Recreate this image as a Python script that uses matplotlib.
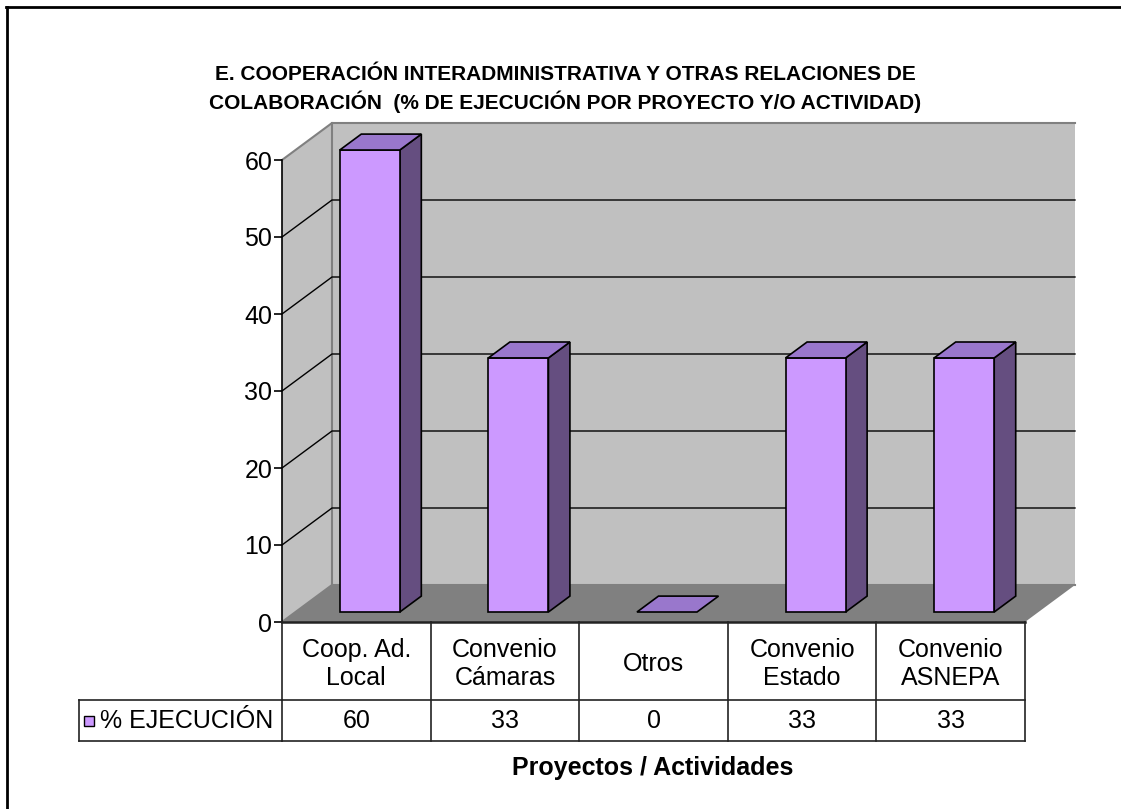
import matplotlib
matplotlib.use("Agg")
import matplotlib.pyplot as plt
from matplotlib.patches import Polygon, Rectangle
from matplotlib.lines import Line2D
from matplotlib.transforms import Affine2D, blended_transform_factory

# ---- data ----
title = ("E. COOPERACIÓN INTERADMINISTRATIVA Y OTRAS RELACIONES DE\n"
         "COLABORACIÓN  (% DE EJECUCIÓN POR PROYECTO Y/O ACTIVIDAD)")
categories = ["Coop. Ad.\nLocal", "Convenio\nCámaras", "Otros", "Convenio\nEstado", "Convenio\nASNEPA"]
values = [60, 33, 0, 33, 33]
series_name = "% EJECUCIÓN"
yticks = [0, 10, 20, 30, 40, 50, 60]
xlabel = "Proyectos / Actividades"

plt.rcParams['font.family'] = ['Liberation Sans', 'DejaVu Sans']

W, H = 1121, 809
fig = plt.figure(figsize=(W / 100, H / 100), dpi=100)
fig.patch.set_facecolor('white')
PX = Affine2D().scale(1.0 / W, -1.0 / H).translate(0, 1) + fig.transFigure

# front plane of the plot area (pixels)
L, R, T, B = 282, 1025, 160, 622
ax = fig.add_axes([L / W, 1 - B / H, (R - L) / W, (B - T) / H])
ax.set_xlim(0, len(categories))
ax.set_ylim(0, 60)
ax.patch.set_visible(False)
for s in ['top', 'right', 'bottom']:
    ax.spines[s].set_visible(False)
ax.spines['left'].set_linewidth(1.2)
ax.spines['left'].set_zorder(5)
ax.set_xticks([])
ax.set_yticks(yticks)
ax.tick_params(axis='y', direction='out', length=5.5, width=1.2, labelsize=18, pad=1.5)

n = len(categories)
DX = 50 / ((R - L) / n)   # depth offset in category units
DY = 37 / ((B - T) / 60)  # depth offset in value units


def P(x, v, d):
    return (x + d * DX, v + d * DY)


wall = '#C0C0C0'
floor = '#808080'
edge_grey = '#808080'
# back wall
ax.add_patch(Polygon([P(0, 0, 1), P(n, 0, 1), P(n, 60, 1), P(0, 60, 1)], closed=True,
                     facecolor=wall, edgecolor='none', clip_on=False, zorder=0))
# left wall
ax.add_patch(Polygon([P(0, 0, 0), P(0, 0, 1), P(0, 60, 1), P(0, 60, 0)], closed=True,
                     facecolor=wall, edgecolor='none', clip_on=False, zorder=0))
# floor
ax.add_patch(Polygon([P(0, 0, 0), P(n, 0, 0), P(n, 0, 1), P(0, 0, 1)], closed=True,
                     facecolor=floor, edgecolor='none', clip_on=False, zorder=0.5))
# wall outlines
for seg in [[P(0, 60, 0), P(0, 60, 1), P(n, 60, 1)],
            [P(0, 0, 1), P(0, 60, 1)],
            [P(0, 0, 0), P(0, 0, 1), P(n, 0, 1)]]:
    xs, ys = zip(*seg)
    ax.add_line(Line2D(xs, ys, color=edge_grey, lw=1.5, clip_on=False, zorder=1))
# gridlines
for v in yticks[1:-1]:
    xs, ys = zip(P(0, v, 0), P(0, v, 1), P(n, v, 1))
    ax.add_line(Line2D(xs, ys, color='black', lw=1.0, clip_on=False, zorder=1))

# bars
front_c, top_c, side_c = '#CC99FF', '#9977CC', '#654E80'
bw, t0, t1 = 0.404, 0.27, 0.70
for i, v in enumerate(values):
    x0 = i + 0.5 - bw / 2
    x1 = x0 + bw
    faces = [
        ([P(x1, 0, t0), P(x1, 0, t1), P(x1, v, t1), P(x1, v, t0)], side_c),
        ([P(x0, 0, t0), P(x1, 0, t0), P(x1, v, t0), P(x0, v, t0)], front_c),
        ([P(x0, v, t0), P(x1, v, t0), P(x1, v, t1), P(x0, v, t1)], top_c),
    ]
    for pts, c in faces:
        if v == 0 and c != top_c:
            continue
        ax.add_patch(Polygon(pts, closed=True, facecolor=c, edgecolor='black', lw=1.2,
                             joinstyle='miter', clip_on=False, zorder=3))

# ---- data table ----
bt = blended_transform_factory(ax.transData, PX)
row1_top, row1_bot, row2_bot = B, 700, 741
tcol = '#222222'
for k in range(n + 1):
    fig.add_artist(Line2D([k, k], [row1_top, row2_bot], transform=bt, color=tcol, lw=1.2))
fig.add_artist(Line2D([0, n], [row1_top, row1_top], transform=bt, color=tcol, lw=1.8))
for i, c in enumerate(categories):
    fig.text(i + 0.5, (row1_top + row1_bot) / 2 + 3, c, transform=bt, ha='center', va='center',
             fontsize=18, linespacing=1.25)
    fig.text(i + 0.5, (row1_bot + row2_bot) / 2 + 1, str(values[i]), transform=bt,
             ha='center', va='center', fontsize=18)

lbl = fig.text(273, (row1_bot + row2_bot) / 2 + 1, series_name, transform=PX,
               ha='right', va='center', fontsize=18)
fig.canvas.draw()
ext = lbl.get_window_extent(fig.canvas.get_renderer())
tx0 = ext.x0
box = 10
bx0 = tx0 - 6 - box
fig.add_artist(Rectangle((bx0, (row1_bot + row2_bot) / 2 - box / 2 + 1), box, box, transform=PX,
                         facecolor=front_c, edgecolor='black', lw=1.0))
cell_left = bx0 - 5
for yy in (row1_bot, row2_bot):
    fig.add_artist(Line2D([cell_left, L], [yy, yy], transform=PX, color=tcol, lw=1.2))
    fig.add_artist(Line2D([L, R], [yy, yy], transform=PX, color=tcol, lw=1.2))
fig.add_artist(Line2D([cell_left, cell_left], [row1_bot, row2_bot], transform=PX, color=tcol, lw=1.2))

# titles
fig.text(565, 89, title, transform=PX, ha='center', va='center', fontsize=15,
         fontweight='bold', linespacing=1.3)
fig.text(653, 768, xlabel, transform=PX, ha='center', va='center', fontsize=18,
         fontweight='bold')

# outer frame (only left and top visible)
fig.add_artist(Line2D([7, 7], [7.5, H], transform=PX, color='black', lw=2))
fig.add_artist(Line2D([6, W], [7.5, 7.5], transform=PX, color='black', lw=2))

fig.savefig('out.png', dpi=100, facecolor='white')
